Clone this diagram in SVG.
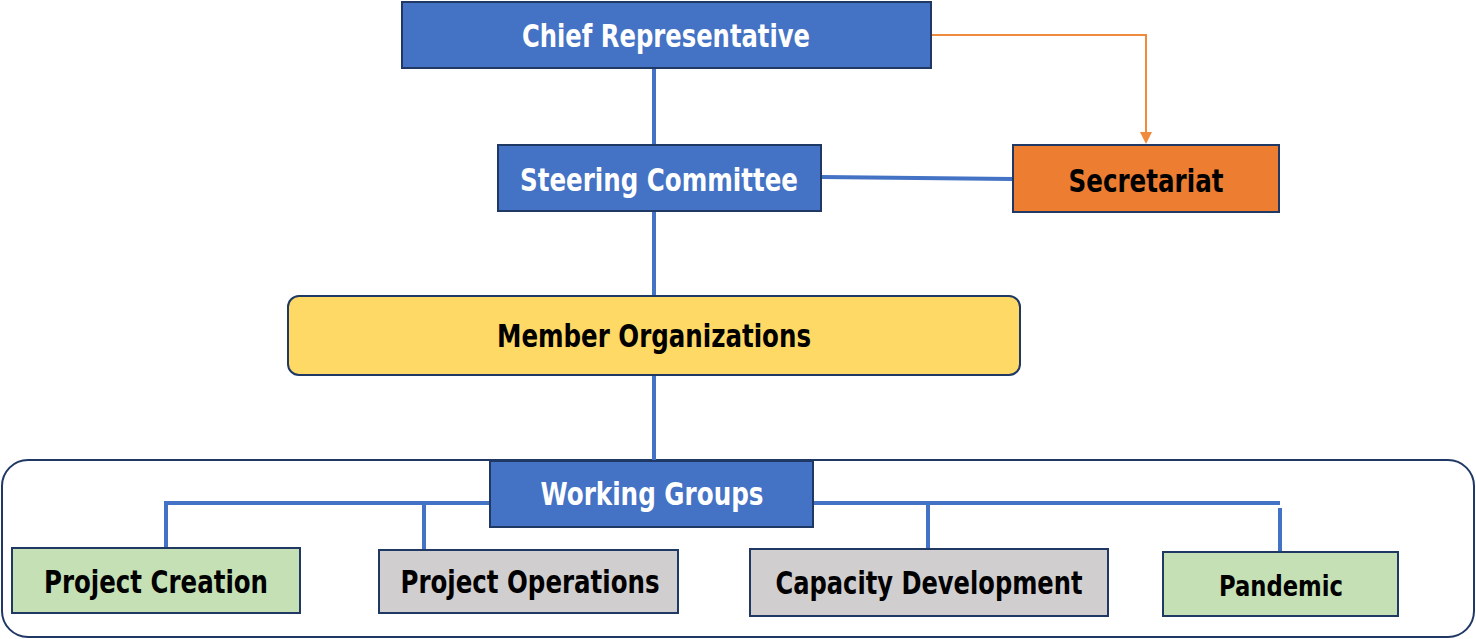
<svg xmlns="http://www.w3.org/2000/svg" width="1476" height="639" viewBox="0 0 1476 639">
<style>
.box{stroke:#1F3864;stroke-width:2}
.blue{fill:#4472C4}
.t{font-family:"DejaVu Sans Condensed","DejaVu Sans",sans-serif;font-weight:bold;font-size:32px;text-anchor:middle}
.w{fill:#FFFFFF}
.k{fill:#000000}
.conn{stroke:#4472C4;stroke-width:4;fill:none}
</style>
<defs>
<marker id="arr" markerWidth="12" markerHeight="12" refX="6" refY="6" orient="auto" markerUnits="userSpaceOnUse" viewBox="0 0 12 12">
<path d="M0,0 L12,6 L0,12 z" fill="#F08A3C"/>
</marker>
</defs>
<rect id="container" x="2" y="460" width="1472" height="177" rx="26" fill="none" stroke="#1F3864" stroke-width="2"/>
<g id="connectors">
<line class="conn" x1="654" y1="68" x2="654" y2="145"/>
<line class="conn" x1="654" y1="211" x2="654" y2="296"/>
<line class="conn" x1="654" y1="375" x2="654" y2="461"/>
<path class="conn" d="M821,177 L1013,179"/>
<path class="conn" d="M490,503 L166,503 L166,547"/>
<line class="conn" x1="424" y1="503" x2="424" y2="550"/>
<path class="conn" d="M813,503 L1280,503"/>
<line class="conn" x1="928" y1="503" x2="928" y2="549"/>
<line class="conn" x1="1280" y1="508" x2="1280" y2="551"/>
<path d="M931,35 L1146,35 L1146,138" fill="none" stroke="#F08A3C" stroke-width="2" marker-end="url(#arr)"/>
</g>
<g id="chief">
<rect class="box blue" x="402" y="2" width="529" height="66"/>
<text class="t w" x="666" y="47" textLength="288" lengthAdjust="spacingAndGlyphs">Chief Representative</text>
</g>
<g id="steering">
<rect class="box blue" x="498" y="145" width="323" height="66"/>
<text class="t w" x="659" y="191" textLength="278" lengthAdjust="spacingAndGlyphs">Steering Committee</text>
</g>
<g id="secretariat">
<rect class="box" x="1013" y="145" width="266" height="67" fill="#ED7D31"/>
<text class="t k" x="1146" y="192" textLength="155" lengthAdjust="spacingAndGlyphs">Secretariat</text>
</g>
<g id="members">
<rect class="box" x="288" y="296" width="732" height="79" rx="11" fill="#FFD966"/>
<text class="t k" x="654" y="347" textLength="314" lengthAdjust="spacingAndGlyphs">Member Organizations</text>
</g>
<g id="working">
<rect class="box blue" x="490" y="461" width="323" height="66"/>
<text class="t w" x="652" y="505" textLength="223" lengthAdjust="spacingAndGlyphs">Working Groups</text>
</g>
<g id="creation">
<rect class="box" x="12" y="548" width="288" height="65" fill="#C5E0B4"/>
<text class="t k" x="156" y="593" textLength="224" lengthAdjust="spacingAndGlyphs">Project Creation</text>
</g>
<g id="operations">
<rect class="box" x="379" y="550" width="299" height="63" fill="#D0CECE"/>
<text class="t k" x="530" y="593" textLength="259" lengthAdjust="spacingAndGlyphs">Project Operations</text>
</g>
<g id="capacity">
<rect class="box" x="750" y="549" width="358" height="67" fill="#D0CECE"/>
<text class="t k" x="929" y="594" textLength="307" lengthAdjust="spacingAndGlyphs">Capacity Development</text>
</g>
<g id="pandemic">
<rect class="box" x="1163" y="552" width="235" height="64" fill="#C5E0B4"/>
<text x="1281" y="596" textLength="124" lengthAdjust="spacingAndGlyphs" style="font-family:'DejaVu Sans Condensed','DejaVu Sans',sans-serif;font-weight:600;font-size:29px;text-anchor:middle;fill:#000">Pandemic</text>
</g>
</svg>
